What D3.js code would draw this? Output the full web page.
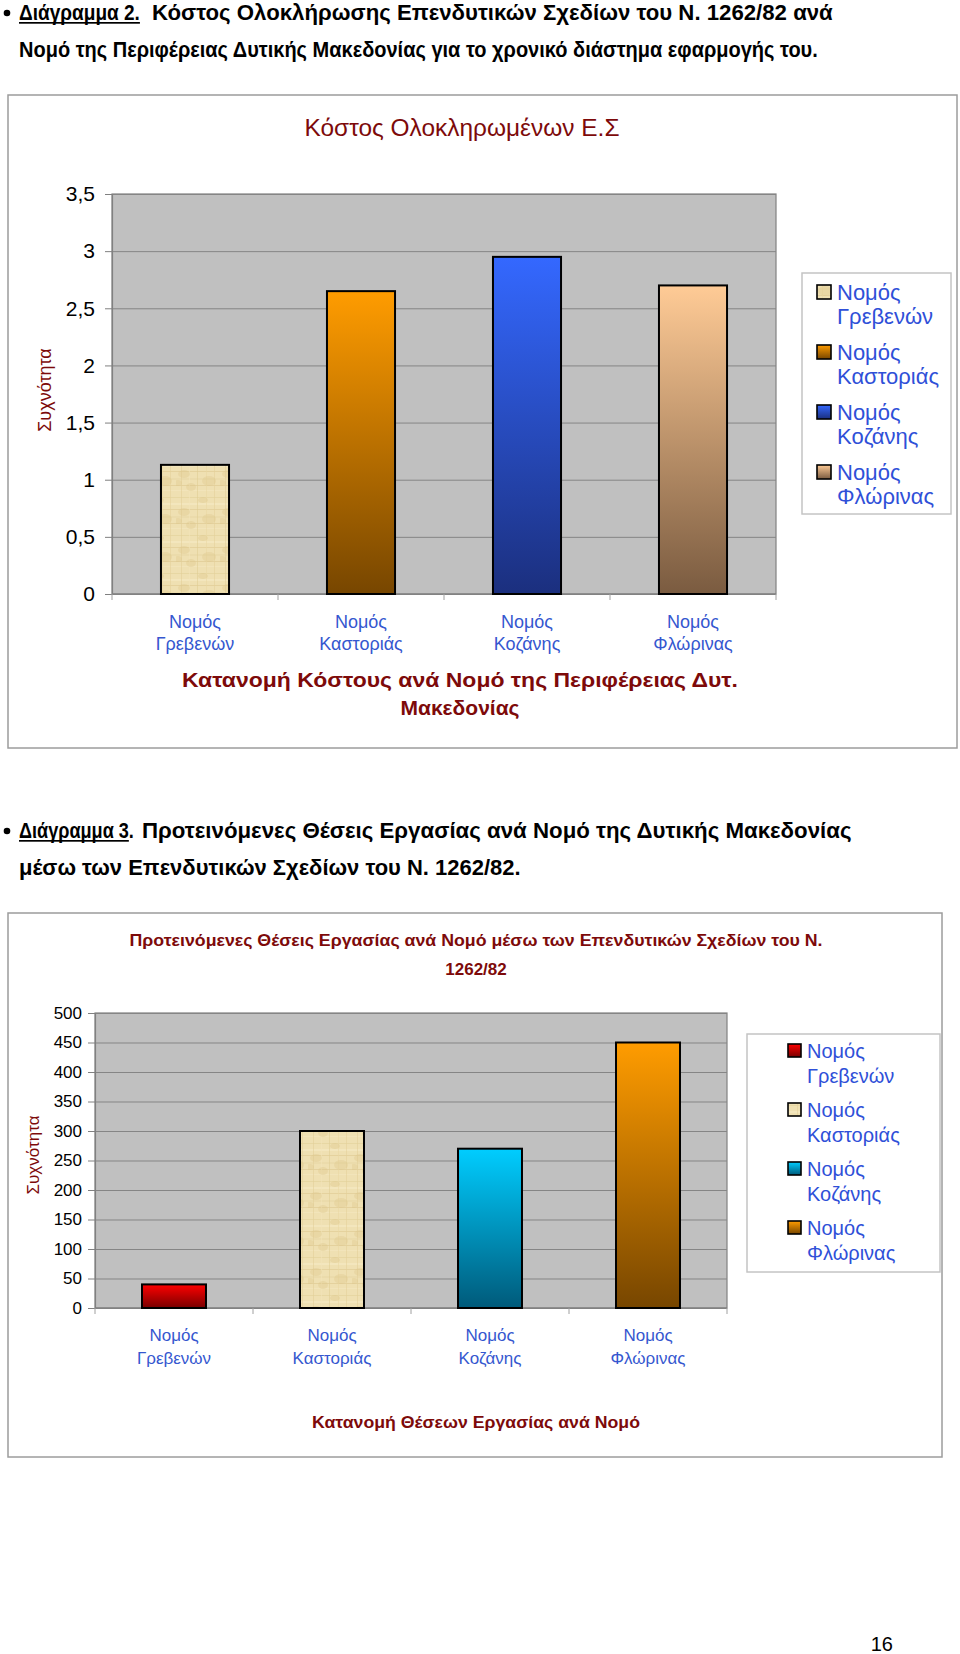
<!DOCTYPE html>
<html><head><meta charset="utf-8">
<script src="https://cdn.jsdelivr.net/npm/d3@7/dist/d3.min.js"></script>
<style>
body{margin:0;background:#fff}
svg text{font-family:"Liberation Sans",Arial,Helvetica,sans-serif}
</style>
</head><body>
<svg id="page" width="960" height="1654"></svg>
<script>
// ---------------- DATA ----------------
const categories = ["Νομός Γρεβενών", "Νομός Καστοριάς", "Νομός Κοζάνης", "Νομός Φλώρινας"];
const costValues = [1.13, 2.65, 2.95, 2.70];
const costTicks = [0, 0.5, 1, 1.5, 2, 2.5, 3, 3.5];
const jobsValues = [40, 300, 270, 450];
const jobsTicks = [0, 50, 100, 150, 200, 250, 300, 350, 400, 450, 500];

// [lead text, underlined char count, body text]
const header2Lines = [
  ["Διάγραμμα 2.", 12, "Κόστος Ολοκλήρωσης Επενδυτικών Σχεδίων του Ν. 1262/82 ανά"],
  ["", 0, "Νομό της Περιφέρειας Δυτικής Μακεδονίας για το χρονικό διάστημα εφαρμογής του."]
];
const header3Lines = [
  ["Διάγραμμα 3.", 11, "Προτεινόμενες Θέσεις Εργασίας ανά Νομό της Δυτικής Μακεδονίας"],
  ["", 0, "μέσω των Επενδυτικών Σχεδίων του Ν. 1262/82."]
];
const chart1Title = ["Κόστος Ολοκληρωμένων Ε.Σ"];
const chart1XTitle = ["Κατανομή Κόστους ανά Νομό της Περιφέρειας Δυτ.", "Μακεδονίας"];
const chart2Title = ["Προτεινόμενες Θέσεις Εργασίας ανά Νομό μέσω των Επενδυτικών Σχεδίων του Ν.", "1262/82"];
const chart2XTitle = ["Κατανομή Θέσεων Εργασίας ανά Νομό"];
const yAxisTitle = "Συχνότητα";
const pageNumber = "16";

// ---------------- STYLE ----------------
const DARKRED = "#7d0a0a";
const BLUE = "#3557cf";
const LEGBLUE = "#2f50d8";

const svg = d3.select("#page");
const defs = svg.append("defs");

function gradient(id, top, bottom) {
  const g = defs.append("linearGradient").attr("id", id)
    .attr("x1", 0).attr("y1", 0).attr("x2", 0).attr("y2", 1);
  g.append("stop").attr("offset", "0%").attr("stop-color", top);
  g.append("stop").attr("offset", "100%").attr("stop-color", bottom);
}
gradient("gOrange", "#ff9c00", "#774600");
gradient("gBlue", "#3468ff", "#1b2f7e");
gradient("gPeach", "#ffcb96", "#7a5b40");
gradient("gRed", "#ff0000", "#780000");
gradient("gCyan", "#00cdff", "#005a7a");

// papyrus texture (decorative tile)
(function () {
  const p = defs.append("pattern").attr("id", "papyrus")
    .attr("patternUnits", "userSpaceOnUse").attr("width", 44).attr("height", 38);
  p.append("rect").attr("width", 44).attr("height", 38).attr("fill", "#efe0b2");
  const hl = [[3, "#e4d29c", 1], [9, "#f6eac4", 2], [15, "#e0cb93", 1], [22, "#ead9a7", 2], [29, "#dfca92", 1], [34, "#f4e7bf", 1]];
  hl.forEach(d => p.append("rect").attr("x", 0).attr("y", d[0]).attr("width", 44).attr("height", d[2]).attr("fill", d[1]).attr("opacity", 0.65));
  const vl = [[5, "#e2ce97"], [13, "#f2e4ba"], [21, "#decb91"], [30, "#e8d6a2"], [38, "#e3cf98"]];
  vl.forEach(d => p.append("rect").attr("x", d[0]).attr("y", 0).attr("width", 1).attr("height", 38).attr("fill", d[1]).attr("opacity", 0.55));
  const blots = [[8, 18, 6, 4], [27, 6, 5, 3], [33, 25, 7, 5], [15, 31, 5, 4], [2, 27, 4, 3]];
  blots.forEach(d => p.append("ellipse").attr("cx", d[0]).attr("cy", d[1]).attr("rx", d[2]).attr("ry", d[3]).attr("fill", "#dbc488").attr("opacity", 0.35));
})();
const papyrusFill = "url(#papyrus)";

// ---------------- HEADERS ----------------
function fitText(sel, w) {
  sel.attr("textLength", w).attr("lengthAdjust", "spacingAndGlyphs");
}
// horizontally scaled text (condensed look) placed from x0 to x1 on baseline y
function scaledText(parent, str, x0, x1, y) {
  const t = parent.append("text").attr("x", 0).attr("y", 0).attr("font-weight", "bold")
    .attr("font-size", 22).attr("fill", "#000").text(str);
  const natural = t.node().getComputedTextLength();
  const k = (x1 - x0) / natural;
  t.attr("transform", `translate(${x0},${y}) scale(${k},1)`);
  return { node: t.node(), k };
}
function headerLine(y, parts, spans, bullet) {
  const g = svg.append("g");
  if (bullet) g.append("circle").attr("cx", 7).attr("cy", y - 7).attr("r", 3.3).attr("fill", "#000");
  if (parts[0]) {
    const a = scaledText(g, parts[0], spans[0][0], spans[0][1], y);
    const ul = a.node.getSubStringLength(0, parts[1]) * a.k;
    g.append("rect").attr("x", spans[0][0]).attr("y", y + 2).attr("width", ul)
      .attr("height", 1.7).attr("fill", "#000");
  }
  scaledText(g, parts[2], spans[1][0], spans[1][1], y);
}
headerLine(20, header2Lines[0], [[19, 140], [152, 833]], true);
headerLine(57, header2Lines[1], [null, [19, 818]], false);
headerLine(838, header3Lines[0], [[19, 134], [142, 852]], true);
headerLine(875, header3Lines[1], [null, [19, 521]], false);

svg.append("text").attr("x", 893).attr("y", 1651).attr("text-anchor", "end")
  .attr("font-size", 20).attr("fill", "#000").text(pageNumber);

// ---------------- CHART FUNCTION ----------------
function drawChart(cfg) {
  const g = svg.append("g");
  g.append("rect").attr("x", cfg.box[0]).attr("y", cfg.box[1]).attr("width", cfg.box[2]).attr("height", cfg.box[3])
    .attr("fill", "#fff").attr("stroke", "#9c9c9c").attr("stroke-width", 1.5);

  const x = d3.scaleBand().domain(cfg.categories).range([cfg.plot.left, cfg.plot.right])
    .paddingInner(1 - cfg.barFrac).paddingOuter((1 - cfg.barFrac) / 2);
  const y = d3.scaleLinear().domain(cfg.domain).range([cfg.plot.bottom, cfg.plot.top]);
  const W = cfg.plot.right - cfg.plot.left;

  g.append("rect").attr("x", cfg.plot.left).attr("y", cfg.plot.top).attr("width", W)
    .attr("height", cfg.plot.bottom - cfg.plot.top).attr("fill", "#c0c0c0").attr("stroke", "#808080").attr("stroke-width", 1.2);

  const grid = g.append("g").attr("transform", `translate(${cfg.plot.left},0)`)
    .call(d3.axisLeft(y).tickValues(cfg.ticks).tickSize(-W).tickFormat(""));
  grid.select(".domain").remove();
  grid.selectAll(".tick line").attr("stroke", "#858585").attr("stroke-width", 1);

  const ya = g.append("g").attr("transform", `translate(${cfg.plot.left},0)`)
    .call(d3.axisLeft(y).tickValues(cfg.ticks).tickSize(7).tickPadding(cfg.yPad).tickFormat(cfg.fmt));
  ya.select(".domain").attr("stroke", "#808080").attr("stroke-width", 1.2);
  ya.selectAll(".tick line").attr("stroke", "#808080");
  ya.selectAll(".tick text").attr("font-size", cfg.yFont).attr("fill", "#000")
    .attr("font-family", '"Liberation Sans",Arial,sans-serif');

  const bounds = d3.range(cfg.categories.length + 1).map(i => cfg.plot.left + i * x.step());
  g.append("line").attr("x1", cfg.plot.left).attr("x2", cfg.plot.right)
    .attr("y1", cfg.plot.bottom).attr("y2", cfg.plot.bottom).attr("stroke", "#808080").attr("stroke-width", 1.2);
  g.selectAll(".xt").data(bounds).join("line")
    .attr("x1", d => d).attr("x2", d => d).attr("y1", cfg.plot.bottom).attr("y2", cfg.plot.bottom + 6)
    .attr("stroke", "#a0a0a0");

  g.selectAll(".bar").data(cfg.values).join("rect")
    .attr("x", (d, i) => x(cfg.categories[i]))
    .attr("y", d => y(d))
    .attr("width", x.bandwidth())
    .attr("height", d => y(0) - y(d))
    .attr("fill", (d, i) => cfg.fills[i])
    .attr("stroke", "#000").attr("stroke-width", 2);

  cfg.categories.forEach(c => {
    const parts = c.split(" ");
    const cx = x(c) + x.bandwidth() / 2;
    parts.forEach((p, j) => {
      g.append("text").attr("x", cx).attr("y", cfg.xLabelY[j]).attr("text-anchor", "middle")
        .attr("font-size", cfg.xFont).attr("fill", BLUE).text(p);
    });
  });

  cfg.title.forEach((t, j) => {
    const el = g.append("text").attr("x", cfg.titleX).attr("y", cfg.titleY[j]).attr("text-anchor", "middle")
      .attr("font-size", cfg.titleFont).attr("font-weight", cfg.titleWeight).attr("fill", DARKRED).text(t);
    if (cfg.titleLen[j]) fitText(el, cfg.titleLen[j]);
  });
  cfg.xTitle.forEach((t, j) => {
    const el = g.append("text").attr("x", cfg.xTitleX).attr("y", cfg.xTitleY[j]).attr("text-anchor", "middle")
      .attr("font-size", cfg.xTitleFont).attr("font-weight", "bold").attr("fill", DARKRED).text(t);
    if (cfg.xTitleLen[j]) fitText(el, cfg.xTitleLen[j]);
  });
  g.append("text").attr("transform", `translate(${cfg.yTitlePos[0]},${cfg.yTitlePos[1]}) rotate(-90)`)
    .attr("text-anchor", "middle").attr("dy", "0.35em").attr("font-size", cfg.yTitleFont)
    .attr("fill", DARKRED).text(yAxisTitle);

  const L = cfg.legend;
  g.append("rect").attr("x", L.box[0]).attr("y", L.box[1]).attr("width", L.box[2]).attr("height", L.box[3])
    .attr("fill", "#fff").attr("stroke", "#c4c4c4").attr("stroke-width", 1.5);
  cfg.categories.forEach((c, i) => {
    const base = L.firstY + i * L.step;
    g.append("rect").attr("x", L.swX).attr("y", base - L.sw - 1).attr("width", L.sw).attr("height", L.sw)
      .attr("fill", cfg.fills[i]).attr("stroke", "#000").attr("stroke-width", 1.6);
    c.split(" ").forEach((p, j) => {
      g.append("text").attr("x", L.textX).attr("y", base + j * L.lineGap)
        .attr("font-size", L.font).attr("fill", LEGBLUE).text(p);
    });
  });
}

const commaFmt = d => String(d).replace(".", ",");

drawChart({
  categories, values: costValues, ticks: costTicks, domain: [0, 3.5], fmt: commaFmt,
  fills: [papyrusFill, "url(#gOrange)", "url(#gBlue)", "url(#gPeach)"],
  box: [8, 95, 949, 653],
  plot: { left: 112, top: 194, right: 776, bottom: 594 },
  barFrac: 0.41, yFont: 21, yPad: 10,
  xFont: 18, xLabelY: [628, 650],
  title: chart1Title, titleX: 462, titleY: [136], titleFont: 24, titleWeight: "normal", titleLen: [315],
  xTitle: chart1XTitle, xTitleX: 460, xTitleY: [687, 715], xTitleFont: 21, xTitleLen: [556, 0],
  yTitlePos: [45, 390], yTitleFont: 18,
  legend: { box: [802, 273, 149, 241], firstY: 300, step: 60, lineGap: 24, swX: 817, sw: 14, textX: 837, font: 22 }
});

drawChart({
  categories, values: jobsValues, ticks: jobsTicks, domain: [0, 500], fmt: d3.format("d"),
  fills: ["url(#gRed)", papyrusFill, "url(#gCyan)", "url(#gOrange)"],
  box: [8, 913, 934, 544],
  plot: { left: 95, top: 1013, right: 727, bottom: 1308 },
  barFrac: 0.405, yFont: 17, yPad: 6,
  xFont: 17, xLabelY: [1341, 1364],
  title: chart2Title, titleX: 476, titleY: [946, 975], titleFont: 17, titleWeight: "bold", titleLen: [693, 0],
  xTitle: chart2XTitle, xTitleX: 476, xTitleY: [1428], xTitleFont: 17, xTitleLen: [328],
  yTitlePos: [33, 1155], yTitleFont: 17,
  legend: { box: [747, 1034, 193, 238], firstY: 1058, step: 59, lineGap: 25, swX: 788, sw: 13, textX: 807, font: 20 }
});
</script>
</body></html>
